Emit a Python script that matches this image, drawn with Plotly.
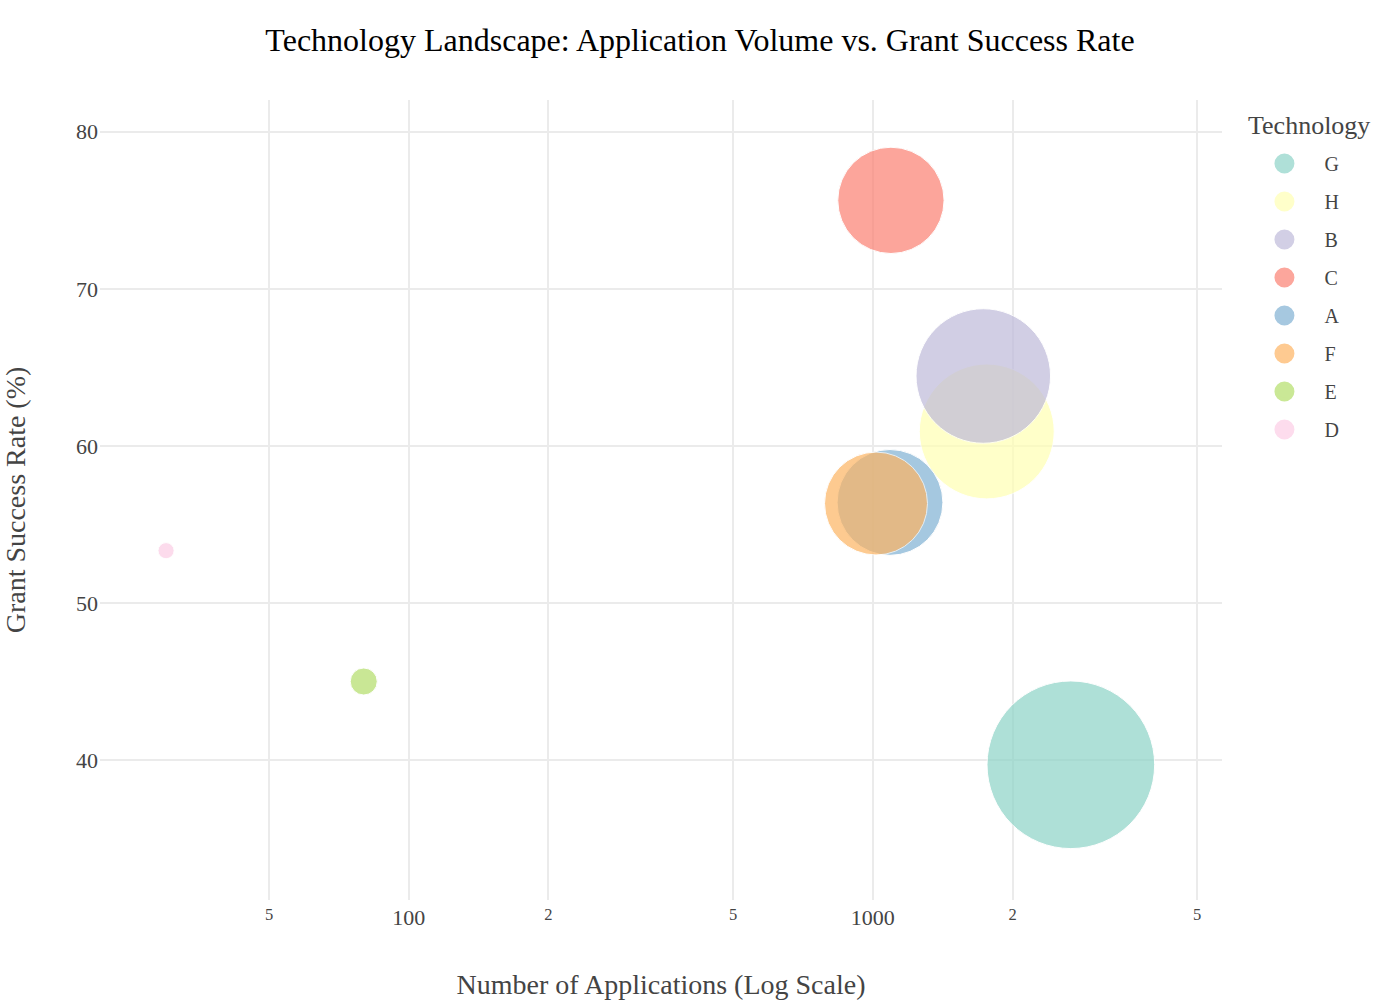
import plotly.graph_objects as go

# Data
technologies = ["G", "H", "B", "C", "A", "F", "E", "D"]
applications = [2671, 1760, 1730, 1094, 1089, 1016, 80, 30]
success_rate = [39.70, 60.92, 64.45, 75.63, 56.40, 56.33, 45.0, 53.33]
bubble_value = [281, 182, 181, 113, 112, 106, 7.3, 2.6]
colors = ["#8dd3c7", "#ffffb3", "#bebada", "#fb8072",
          "#80b1d3", "#fdb462", "#b3de69", "#fccde5"]

FONT = "Liberation Serif, Times New Roman, serif"
OPACITY = 0.7


def blend(hex_color, alpha):
    r, g, b = (int(hex_color[i:i + 2], 16) for i in (1, 3, 5))
    mix = lambda v: round(v * alpha + 255 * (1 - alpha))
    return f"rgb({mix(r)},{mix(g)},{mix(b)})"


fig = go.Figure()
for tech, x, y, s, c in zip(technologies, applications, success_rate, bubble_value, colors):
    fig.add_trace(go.Scatter(
        x=[x], y=[y], name=tech, legendgroup=tech, mode="markers", showlegend=False,
        marker=dict(size=[s], sizemode="area", sizeref=0.02, color=c,
                    opacity=OPACITY, line=dict(width=1, color="white")),
    ))
# legend entries (same groups as the bubbles)
for tech, c in zip(technologies, colors):
    lc = blend(c, OPACITY)
    fig.add_trace(go.Scatter(
        x=[None], y=[None], name=tech, legendgroup=tech, mode="markers",
        marker=dict(size=16, color=lc, line=dict(width=4, color=lc)),
    ))

fig.update_layout(
    width=1400, height=1000,
    template="none",
    paper_bgcolor="white", plot_bgcolor="white",
    font=dict(family=FONT, size=22, color="#444"),
    title=dict(text="Technology Landscape: Application Volume vs. Grant Success Rate",
               x=0.5, xanchor="center", y=0.96, yanchor="middle",
               font=dict(family=FONT, size=32, color="black")),
    margin=dict(l=100, r=178, t=100, b=100),
    legend=dict(font=dict(size=20), tracegroupgap=9, itemwidth=70,
                x=1.02, xanchor="left", y=0.945, yanchor="top"),
    annotations=[dict(text="Technology", xref="paper", yref="paper",
                      x=1.0215, y=0.9675, xanchor="left", yanchor="middle",
                      showarrow=False, font=dict(size=26, color="#444"))],
    xaxis=dict(type="log", range=[1.3348, 3.7524], dtick="D2", ticklabelstandoff=2,
               title=dict(text="Number of Applications (Log Scale)", font=dict(size=28),
                          standoff=46),
               showgrid=True, gridcolor="#ebebeb", gridwidth=2,
               zeroline=False, showline=False, ticks=""),
    yaxis=dict(range=[31.09, 82.02], ticklabelstandoff=1,
               title=dict(text="Grant Success Rate (%)", font=dict(size=28), standoff=51),
               showgrid=True, gridcolor="#ebebeb", gridwidth=2,
               zeroline=False, showline=False, ticks="", dtick=10),
)

fig.write_html("out.html", config={"displayModeBar": False},
               post_script="document.body.style.margin='0px';")
